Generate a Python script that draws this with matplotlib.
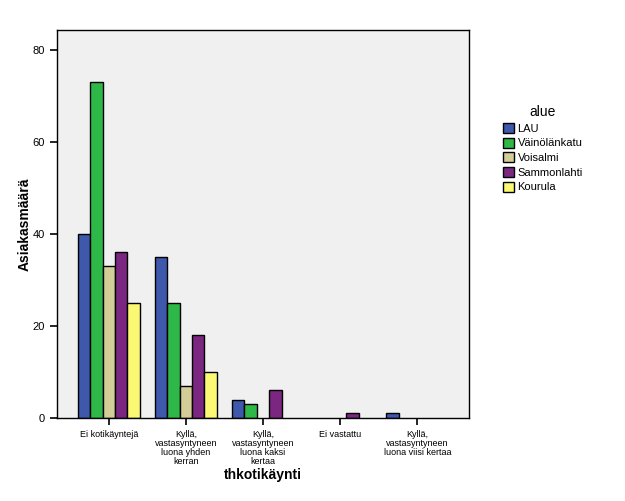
import numpy as np
import matplotlib
matplotlib.use("Agg")
import matplotlib.pyplot as plt

plt.rcParams["font.family"] = ["Liberation Sans", "DejaVu Sans"]

# ── data ──────────────────────────────────────────────────────────────────────
categories = ["Ei kotikäyntejä",
              "Kyllä,\nvastasyntyneen\nluona yhden\nkerran",
              "Kyllä,\nvastasyntyneen\nluona kaksi\nkertaa",
              "Ei vastattu",
              "Kyllä,\nvastasyntyneen\nluona viisi kertaa"]
areas = ["LAU", "Väinölänkatu", "Voisalmi", "Sammonlahti", "Kourula"]
lau          = [40, 35, 4, 0, 1]
vainolankatu = [73, 25, 3, 0, 0]
voisalmi     = [33, 7, 0, 0, 0]
sammonlahti  = [36, 18, 6, 1, 0]
kourula      = [25, 10, 0, 0, 0]
series = [lau, vainolankatu, voisalmi, sammonlahti, kourula]
colors = ["#3E58AC", "#2EB848", "#D3CE97", "#7B2680", "#FBF873"]

# ── plot ──────────────────────────────────────────────────────────────────────
fig = plt.figure(figsize=(6.25, 5.01), dpi=100)
ax = fig.add_axes([57 / 625, 83 / 501, 412 / 625, 388 / 501])
ax.set_facecolor("#F0F0F0")

x = np.arange(len(categories))
w = 0.8 / len(series)
for i, (vals, name, col) in enumerate(zip(series, areas, colors)):
    vals = np.array(vals, dtype=float)
    bars = ax.bar(x + (i - 2) * w, vals, width=w, color=col,
                  edgecolor="black", linewidth=1.0, label=name)
    # empty cells are not drawn at all
    for b, v in zip(bars, vals):
        if v == 0:
            b.set_visible(False)

ax.set_xlim(-0.67, len(categories) - 1 + 0.67)
ax.set_ylim(0, 84.3)
ax.set_yticks([0, 20, 40, 60, 80])
ax.set_xticks(x)
ax.set_xticklabels(categories, fontsize=6.5, linespacing=1.0)
ax.tick_params(axis="y", labelsize=8, length=5, width=1.2, direction="out")
ax.tick_params(axis="x", length=5, width=1.2, direction="out")
for s in ax.spines.values():
    s.set_linewidth(1.0)
    s.set_color("black")

ax.set_xlabel("thkotikäynti", fontsize=10, fontweight="bold")
ax.set_ylabel("Asiakasmäärä", fontsize=10, fontweight="bold")
ax.xaxis.set_label_coords(0.5, -0.128)
ax.yaxis.set_label_coords(-0.062, 0.5)

lg = ax.legend(title="alue", loc="upper left", bbox_to_anchor=(1.072, 0.818),
               frameon=False, fontsize=8, title_fontsize=10,
               handlelength=1.0, handleheight=1.0, handletextpad=0.3,
               labelspacing=0.35, borderaxespad=0)

plt.savefig("out.png", dpi=100)
plt.close()
